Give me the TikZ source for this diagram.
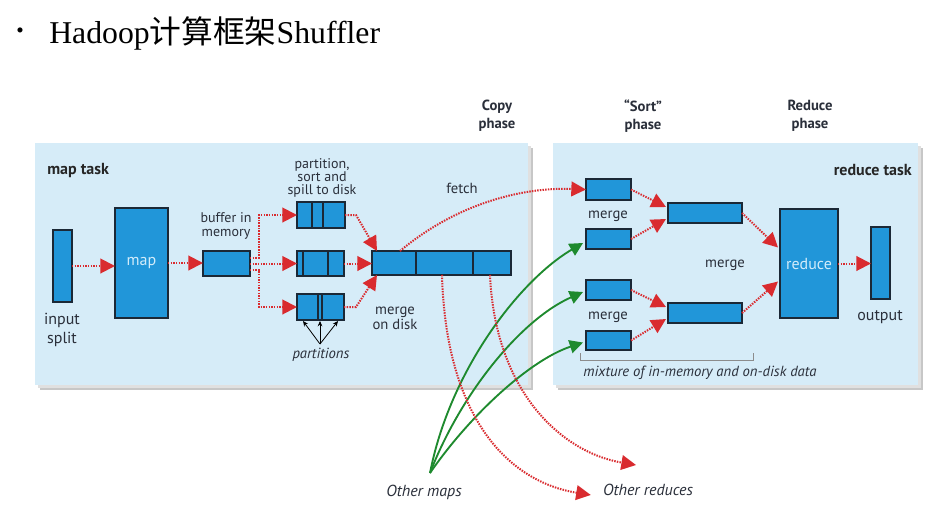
\documentclass[tikz,border=0pt]{standalone}
\usepackage{fontspec}
\setmainfont{Liberation Serif}
\newfontfamily\cjk{Noto Sans CJK SC}
\newfontfamily\lab{PT Sans}
\usetikzlibrary{arrows.meta,calc}
\definecolor{bgblue}{HTML}{D6ECF8}
\definecolor{boxblue}{HTML}{2196D9}
\definecolor{boxedge}{HTML}{1B2836}
\definecolor{rdot}{HTML}{D92B2F}
\definecolor{gline}{HTML}{1E8A2E}
\definecolor{txt}{HTML}{2A2F3A}
\definecolor{intxt}{HTML}{D2ECFA}
\begin{document}
\begin{tikzpicture}[x=0.75pt,y=-0.75pt,
  bx/.style 2 args={draw=boxedge, line width=1.3pt, fill=boxblue, minimum width=#1*0.75pt, minimum height=#2*0.75pt, inner sep=0pt, outer sep=0pt},
  divl/.style={draw=boxedge, line width=1.3pt},
  lbl/.style={font=\lab\fontsize{11}{11}\selectfont, text=txt, align=center, inner sep=0pt},
  slbl/.style={font=\lab\fontsize{10.5}{10}\selectfont, text=txt, align=center, inner sep=0pt},
  blbl/.style={font=\lab\fontsize{12}{12}\selectfont, text=txt, align=center, inner sep=0pt},
  ilbl/.style={font=\lab\itshape\fontsize{11}{11}\selectfont, text=txt, align=center, inner sep=0pt},
  hlbl/.style={font=\lab\bfseries\fontsize{11}{13.5}\selectfont, text=txt, align=center, inner sep=0pt},
  tlbl/.style={font=\lab\bfseries\fontsize{12}{12}\selectfont, text=black!85, inner sep=0pt},
  inlbl/.style={font=\lab\fontsize{12}{12}\selectfont, text=intxt, inner sep=0pt},
  rarr/.style={draw=rdot, line width=1.5pt, dash pattern=on 1.1pt off 0.9pt, -{Triangle[length=11pt,width=11pt]}},
  garr/.style={draw=gline, line width=1.4pt, -{Triangle[length=10pt,width=10pt]}},
  karr/.style={draw=black, line width=0.6pt, -{Stealth[length=4pt,width=3.5pt]}}
]
\useasboundingbox (0,0) rectangle (927,514);
\fill[white] (0,0) rectangle (927,514);

% title
\node[font=\fontsize{16}{16}\selectfont, inner sep=0pt] (bul) at (20,33) {\textbullet};
\node[anchor=west, font=\fontsize{23.8}{24}\selectfont, inner sep=0pt] (title) at (49,33) {Hadoop{\cjk 计算框架}Shuffler};

% backgrounds
\fill[black!22] (40,148) rectangle (533,390);
\fill[black!12] (38,146) rectangle (531,388);
\fill[bgblue] (35,143) rectangle (528,385);
\fill[black!22] (558,148) rectangle (923,390);
\fill[black!12] (556,146) rectangle (921,388);
\fill[bgblue] (553,143) rectangle (918,385);

% headers
\node[tlbl, anchor=west] (mt) at (47,170) {map task};
\node[tlbl, anchor=east] (rt) at (912,170) {reduce task};
\node[hlbl] (cp) at (497,116) {Copy\\phase};
\node[hlbl] (sp) at (643,116) {“Sort”\\phase};
\node[hlbl] (rp) at (810,116) {Reduce\\phase};

% map side boxes
\node[bx={19}{72}] (split) at (62.5,266) {};
\node[bx={53}{110}] (mapb) at (141.5,263) {};
\node[inlbl] (maplbl) at (mapb) {map};
\node[bx={47}{25}] (buf) at (226.5,263.5) {};
\node[bx={48}{26}] (sp1) at (321,215) {};
\node[bx={47}{25}] (sp2) at (320.5,263.5) {};
\node[bx={47}{26}] (sp3) at (320.5,307) {};
\node[bx={139}{24}] (mdisk) at (441.5,263) {};
\draw[divl] ($(sp1.north west)+(15,0)$) -- ($(sp1.south west)+(15,0)$);
\draw[divl] ($(sp1.north west)+(26,0)$) -- ($(sp1.south west)+(26,0)$);
\draw[divl] ($(sp2.north west)+(6,0)$) -- ($(sp2.south west)+(6,0)$);
\draw[divl] ($(sp2.north west)+(31,0)$) -- ($(sp2.south west)+(31,0)$);
\draw[divl] ($(sp3.north west)+(21,0)$) -- ($(sp3.south west)+(21,0)$);
\draw[divl] ($(sp3.north west)+(25,0)$) -- ($(sp3.south west)+(25,0)$);
\draw[divl] ($(mdisk.north west)+(44,0)$) -- ($(mdisk.south west)+(44,0)$);
\draw[divl] ($(mdisk.north west)+(101,0)$) -- ($(mdisk.south west)+(101,0)$);

% map side labels
\node[blbl, font=\lab\fontsize{12}{14}\selectfont] (splitlbl) at (62,330) {input\\split};
\node[slbl] (buflbl) at (226,226) {buffer in\\memory};
\node[slbl] (psslbl) at (322,178) {partition,\\sort and\\spill to disk};
\node[lbl] (mdlbl) at (395,318) {merge\\on disk};
\node[ilbl] (parts) at (321,355) {partitions};
\node[lbl] (fetch) at (462,188) {fetch};

% reduce side boxes
\node[bx={45}{21}] (m1) at (608.5,189.5) {};
\node[bx={45}{20}] (m2) at (608.5,239) {};
\node[bx={45}{20}] (m3) at (608.5,290) {};
\node[bx={45}{19}] (m4) at (608.5,340.5) {};
\node[bx={74}{20}] (M1) at (705,213) {};
\node[bx={74}{20}] (M2) at (705,313) {};
\node[bx={58}{109}] (red) at (809,263.5) {};
\node[inlbl] (redlbl) at (red) {reduce};
\node[bx={19}{72}] (out) at (880.5,263) {};

\node[lbl] (mg1) at (608,216) {merge};
\node[lbl] (mg2) at (608,317) {merge};
\node[lbl] (mg3) at (725,265) {merge};
\node[blbl] (outlbl) at (880,317) {output};
\draw[black!45, line width=0.6pt] (580,353) -- (580,360) -- (753,360) -- (753,353);
\node[ilbl] (mix) at (700,373) {mixture of in-memory and on-disk data};

% map side arrows
\draw[rarr] (split.east) -- (split.east -| mapb.west);
\draw[rarr] (mapb.east) -- (mapb.east -| buf.west);
\draw[rarr] ($(buf.east)+(0,-6)$) -- ++(9,0) |- (sp1.west);
\draw[rarr] (buf.east) -- (sp2.west);
\draw[rarr] ($(buf.east)+(0,6)$) -- ++(9,0) |- (sp3.west);
\draw[rarr] (sp1.east) -- ++(11,0) -- ($(mdisk.north west)+(5,0)$);
\draw[rarr] (sp2.east) -- (sp2.east -| mdisk.west);
\draw[rarr] (sp3.east) -- ++(12,0) -- ($(mdisk.south west)+(5,0)$);

\coordinate (pt) at (320,344);
\draw[karr] (pt) -- ($(sp3.south west)+(6,1)$);
\draw[karr] (pt) -- ($(sp3.south west)+(23,1)$);
\draw[karr] (pt) -- ($(sp3.south west)+(41,1)$);

% fetch
\draw[rarr] ($(mdisk.north west)+(28,0)$) .. controls (455,205) and (520,187) .. (m1.west);

% reduce side arrows
\draw[rarr] (m1.east) -- ($(M1.west)+(-2,-6)$);
\draw[rarr] (m2.east) -- ($(M1.west)+(-2,6)$);
\draw[rarr] (m3.east) -- ($(M2.west)+(-2,-6)$);
\draw[rarr] (m4.east) -- ($(M2.west)+(-2,6)$);
\draw[rarr] (M1.east) -- ($(red.west)+(-2,-16)$);
\draw[rarr] (M2.east) -- ($(red.west)+(-2,18)$);
\draw[rarr] (red.east) -- (red.east -| out.west);

% other maps / reduces
\node[ilbl, font=\lab\itshape\fontsize{12}{12}\selectfont] (om) at (424,492) {Other maps};
\node[ilbl, font=\lab\itshape\fontsize{12}{12}\selectfont] (orr) at (648,490) {Other reduces};
\coordinate (omc) at (430,473);
\draw[garr] (omc) .. controls (450,370) and (520,280) .. ($(m2.west)+(-3,4)$);
\draw[garr] (omc) .. controls (460,395) and (520,320) .. ($(m3.west)+(-3,2)$);
\draw[garr] (omc) .. controls (470,415) and (530,360) .. ($(m4.west)+(-3,2)$);
\draw[rarr] ($(mdisk.south west)+(70,0)$) .. controls (446,420) and (510,482) .. ($(orr.west)+(-12,5)$);
\draw[rarr] ($(mdisk.south west)+(118,0)$) .. controls (495,390) and (560,452) .. ($(orr.center)+(-12,-25)$);
\end{tikzpicture}
\end{document}
